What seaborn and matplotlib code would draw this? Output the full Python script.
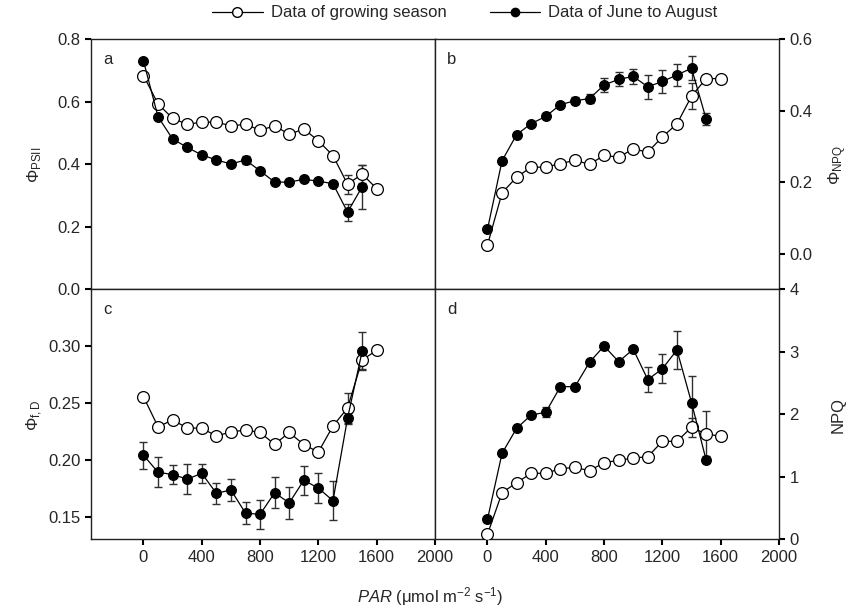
import numpy as np
import pandas as pd
import matplotlib
matplotlib.use("Agg")
import matplotlib.pyplot as plt
from matplotlib.lines import Line2D
import seaborn as sns

sns.set_theme(style="ticks")
plt.rcParams['font.family'] = ['Liberation Sans', 'DejaVu Sans']
plt.rcParams['mathtext.fontset'] = 'custom'
plt.rcParams['mathtext.rm'] = 'Liberation Sans'
plt.rcParams['mathtext.it'] = 'Liberation Sans:italic'

# ---------------- data ----------------
par_gs = [0, 100, 200, 300, 400, 500, 600, 700, 800, 900, 1000, 1100, 1200, 1300, 1400, 1500, 1600]
par_ja = [0, 100, 200, 300, 400, 500, 600, 700, 800, 900, 1000, 1100, 1200, 1300, 1400, 1500]

# Panel a: PhiPSII
a_gs = [0.684, 0.593, 0.547, 0.528, 0.535, 0.535, 0.523, 0.528, 0.509, 0.523, 0.496, 0.513, 0.475, 0.428, 0.336, 0.369, 0.322]
a_gs_err = [0, 0, 0, 0, 0, 0, 0, 0, 0, 0, 0, 0, 0, 0, 0.030, 0.030, 0]
a_ja = [0.731, 0.552, 0.481, 0.454, 0.430, 0.414, 0.401, 0.414, 0.379, 0.343, 0.343, 0.352, 0.346, 0.338, 0.247, 0.328]
a_ja_err = [0, 0, 0, 0, 0, 0, 0, 0.013, 0, 0, 0, 0, 0, 0, 0.027, 0.070]

# Panel b: PhiNPQ
b_gs = [0.024, 0.170, 0.214, 0.242, 0.242, 0.252, 0.261, 0.250, 0.275, 0.270, 0.293, 0.284, 0.327, 0.363, 0.441, 0.490, 0.490]
b_gs_err = [0, 0, 0, 0, 0, 0, 0, 0, 0, 0, 0, 0, 0, 0, 0.037, 0.010, 0]
b_ja = [0.068, 0.260, 0.333, 0.364, 0.384, 0.417, 0.428, 0.434, 0.472, 0.488, 0.496, 0.467, 0.482, 0.500, 0.519, 0.377]
b_ja_err = [0, 0, 0, 0, 0, 0, 0.010, 0.012, 0.020, 0.020, 0.020, 0.034, 0.033, 0.031, 0.033, 0.016]

# Panel c: Phif,D
c_gs = [0.2555, 0.229, 0.235, 0.228, 0.2277, 0.221, 0.2244, 0.2262, 0.224, 0.2136, 0.224, 0.2133, 0.2068, 0.2297, 0.2455, 0.2878, 0.2963]
c_gs_err = [0, 0, 0, 0, 0, 0, 0, 0, 0, 0, 0, 0, 0, 0, 0.0135, 0.008, 0]
c_ja = [0.204, 0.189, 0.187, 0.183, 0.188, 0.1705, 0.1734, 0.153, 0.152, 0.171, 0.162, 0.182, 0.175, 0.164, 0.2365, 0.2954]
c_ja_err = [0.0117, 0.013, 0.008, 0.0135, 0.0084, 0.009, 0.0095, 0.0094, 0.0126, 0.0137, 0.0138, 0.0126, 0.013, 0.017, 0.005, 0.0166]

# Panel d: NPQ
d_gs = [0.08, 0.746, 0.906, 1.056, 1.056, 1.13, 1.15, 1.098, 1.226, 1.264, 1.30, 1.322, 1.568, 1.568, 1.792, 1.685, 1.648]
d_gs_err = [0, 0, 0, 0, 0, 0, 0, 0, 0, 0, 0, 0, 0, 0, 0.15, 0.36, 0]
d_ja = [0.32, 1.376, 1.776, 1.989, 2.032, 2.442, 2.442, 2.832, 3.093, 2.842, 3.04, 2.554, 2.73, 3.029, 2.186, 1.269]
d_ja_err = [0, 0, 0, 0.05, 0.08, 0, 0, 0, 0.05, 0, 0, 0.20, 0.23, 0.30, 0.43, 0]

label_gs = "Data of growing season"
label_ja = "Data of June to August"
x_ticks = [0, 400, 800, 1200, 1600, 2000]

# ---------------- figure ----------------
fig = plt.figure(figsize=(8.58, 6.12), dpi=100)
L, M, R = 91 / 858, 435 / 858, 779 / 858
T, H, B = 1 - 39.3 / 612, 1 - 289.3 / 612, 1 - 539.3 / 612

ax_a = fig.add_axes([L, H, M - L, T - H])
ax_b = fig.add_axes([M, H, R - M, T - H])
ax_c = fig.add_axes([L, B, M - L, H - B])
ax_d = fig.add_axes([M, B, R - M, H - B])

FS = 12


def draw(ax, gs, gs_err, ja, ja_err):
    df_gs = pd.DataFrame({"PAR": par_gs, "val": gs})
    df_ja = pd.DataFrame({"PAR": par_ja, "val": ja})
    # error bars
    for px, v, e in ((par_gs, gs, gs_err), (par_ja, ja, ja_err)):
        xs = [p for p, ee in zip(px, e) if ee > 0]
        ys = [vv for vv, ee in zip(v, e) if ee > 0]
        es = [ee for ee in e if ee > 0]
        if xs:
            ax.errorbar(xs, ys, yerr=es, fmt='none', ecolor='#303030',
                        elinewidth=1.0, capsize=3, capthick=1.0, zorder=2)
    sns.lineplot(data=df_gs, x="PAR", y="val", ax=ax, color='black', lw=0.9,
                 marker='o', markersize=8.5, markerfacecolor='white',
                 markeredgecolor='black', markeredgewidth=0.9, zorder=3)
    sns.lineplot(data=df_ja, x="PAR", y="val", ax=ax, color='black', lw=0.9,
                 marker='o', markersize=7, markerfacecolor='black',
                 markeredgecolor='black', markeredgewidth=0.9, zorder=4)
    ax.set_xlim(-360, 2000)
    ax.set_xticks(x_ticks)
    ax.set_xlabel("")
    ax.set_ylabel("")
    for s in ax.spines.values():
        s.set_visible(True)
        s.set_linewidth(1.0)
        s.set_color('#222222')
    ax.tick_params(direction='out', length=4, width=1.5, labelsize=FS, color='black')


draw(ax_a, a_gs, a_gs_err, a_ja, a_ja_err)
draw(ax_b, b_gs, b_gs_err, b_ja, b_ja_err)
draw(ax_c, c_gs, c_gs_err, c_ja, c_ja_err)
draw(ax_d, d_gs, d_gs_err, d_ja, d_ja_err)

# y axes
ax_a.set_ylim(0, 0.8)
ax_a.set_yticks([0.0, 0.2, 0.4, 0.6, 0.8])
ax_a.set_yticklabels(["0.0", "0.2", "0.4", "0.6", "0.8"])
ax_a.tick_params(axis='x', labelbottom=False)

ax_c.set_ylim(0.13, 0.35)
ax_c.set_yticks([0.15, 0.20, 0.25, 0.30])
ax_c.set_yticklabels(["0.15", "0.20", "0.25", "0.30"])
ax_c.set_xticklabels([str(t) for t in x_ticks])

ax_b.set_ylim(-0.1, 0.6)
ax_b.set_yticks([0.0, 0.2, 0.4, 0.6])
ax_b.set_yticklabels(["0.0", "0.2", "0.4", "0.6"])
ax_b.yaxis.tick_right()
ax_b.tick_params(axis='x', labelbottom=False)

ax_d.set_ylim(0, 4)
ax_d.set_yticks([0, 1, 2, 3, 4])
ax_d.yaxis.tick_right()
ax_d.set_xticklabels([str(t) for t in x_ticks])

# axis labels
fig.text(35 / 858, 1 - 165 / 612, "Φ$_{\\rm PSII}$", rotation=90, ha='center', va='center', fontsize=FS)
fig.text(35 / 858, 1 - 415 / 612, "Φ$_{\\rm f,D}$", rotation=90, ha='center', va='center', fontsize=FS)
fig.text(838 / 858, 1 - 165 / 612, "Φ$_{\\rm NPQ}$", rotation=90, ha='center', va='center', fontsize=FS)
fig.text(838 / 858, 1 - 415 / 612, "NPQ", rotation=90, ha='center', va='center', fontsize=FS)
fig.text(430 / 858, 1 - 597 / 612, "$\\it{PAR}$ (μmol m$^{-2}$ s$^{-1}$)", ha='center', va='center', fontsize=FS)

# panel letters
for ax, lt in ((ax_a, 'a'), (ax_b, 'b'), (ax_c, 'c'), (ax_d, 'd')):
    ax.text(0.035, 0.92, lt, transform=ax.transAxes, fontsize=FS, ha='left', va='center')

# legend
handles = [
    Line2D([], [], color='black', lw=0.9, marker='o', markersize=7,
           markerfacecolor='white', markeredgecolor='black', label=label_gs),
    Line2D([], [], color='black', lw=0.9, marker='o', markersize=6,
           markerfacecolor='black', markeredgecolor='black', label=label_ja),
]
fig.legend(handles=handles, loc='center', bbox_to_anchor=(465 / 858, 1 - 13 / 612), ncol=2,
           frameon=False, fontsize=FS, handlelength=3.0, columnspacing=2.6, handletextpad=0.5)

fig.savefig("out.png", dpi=100)
